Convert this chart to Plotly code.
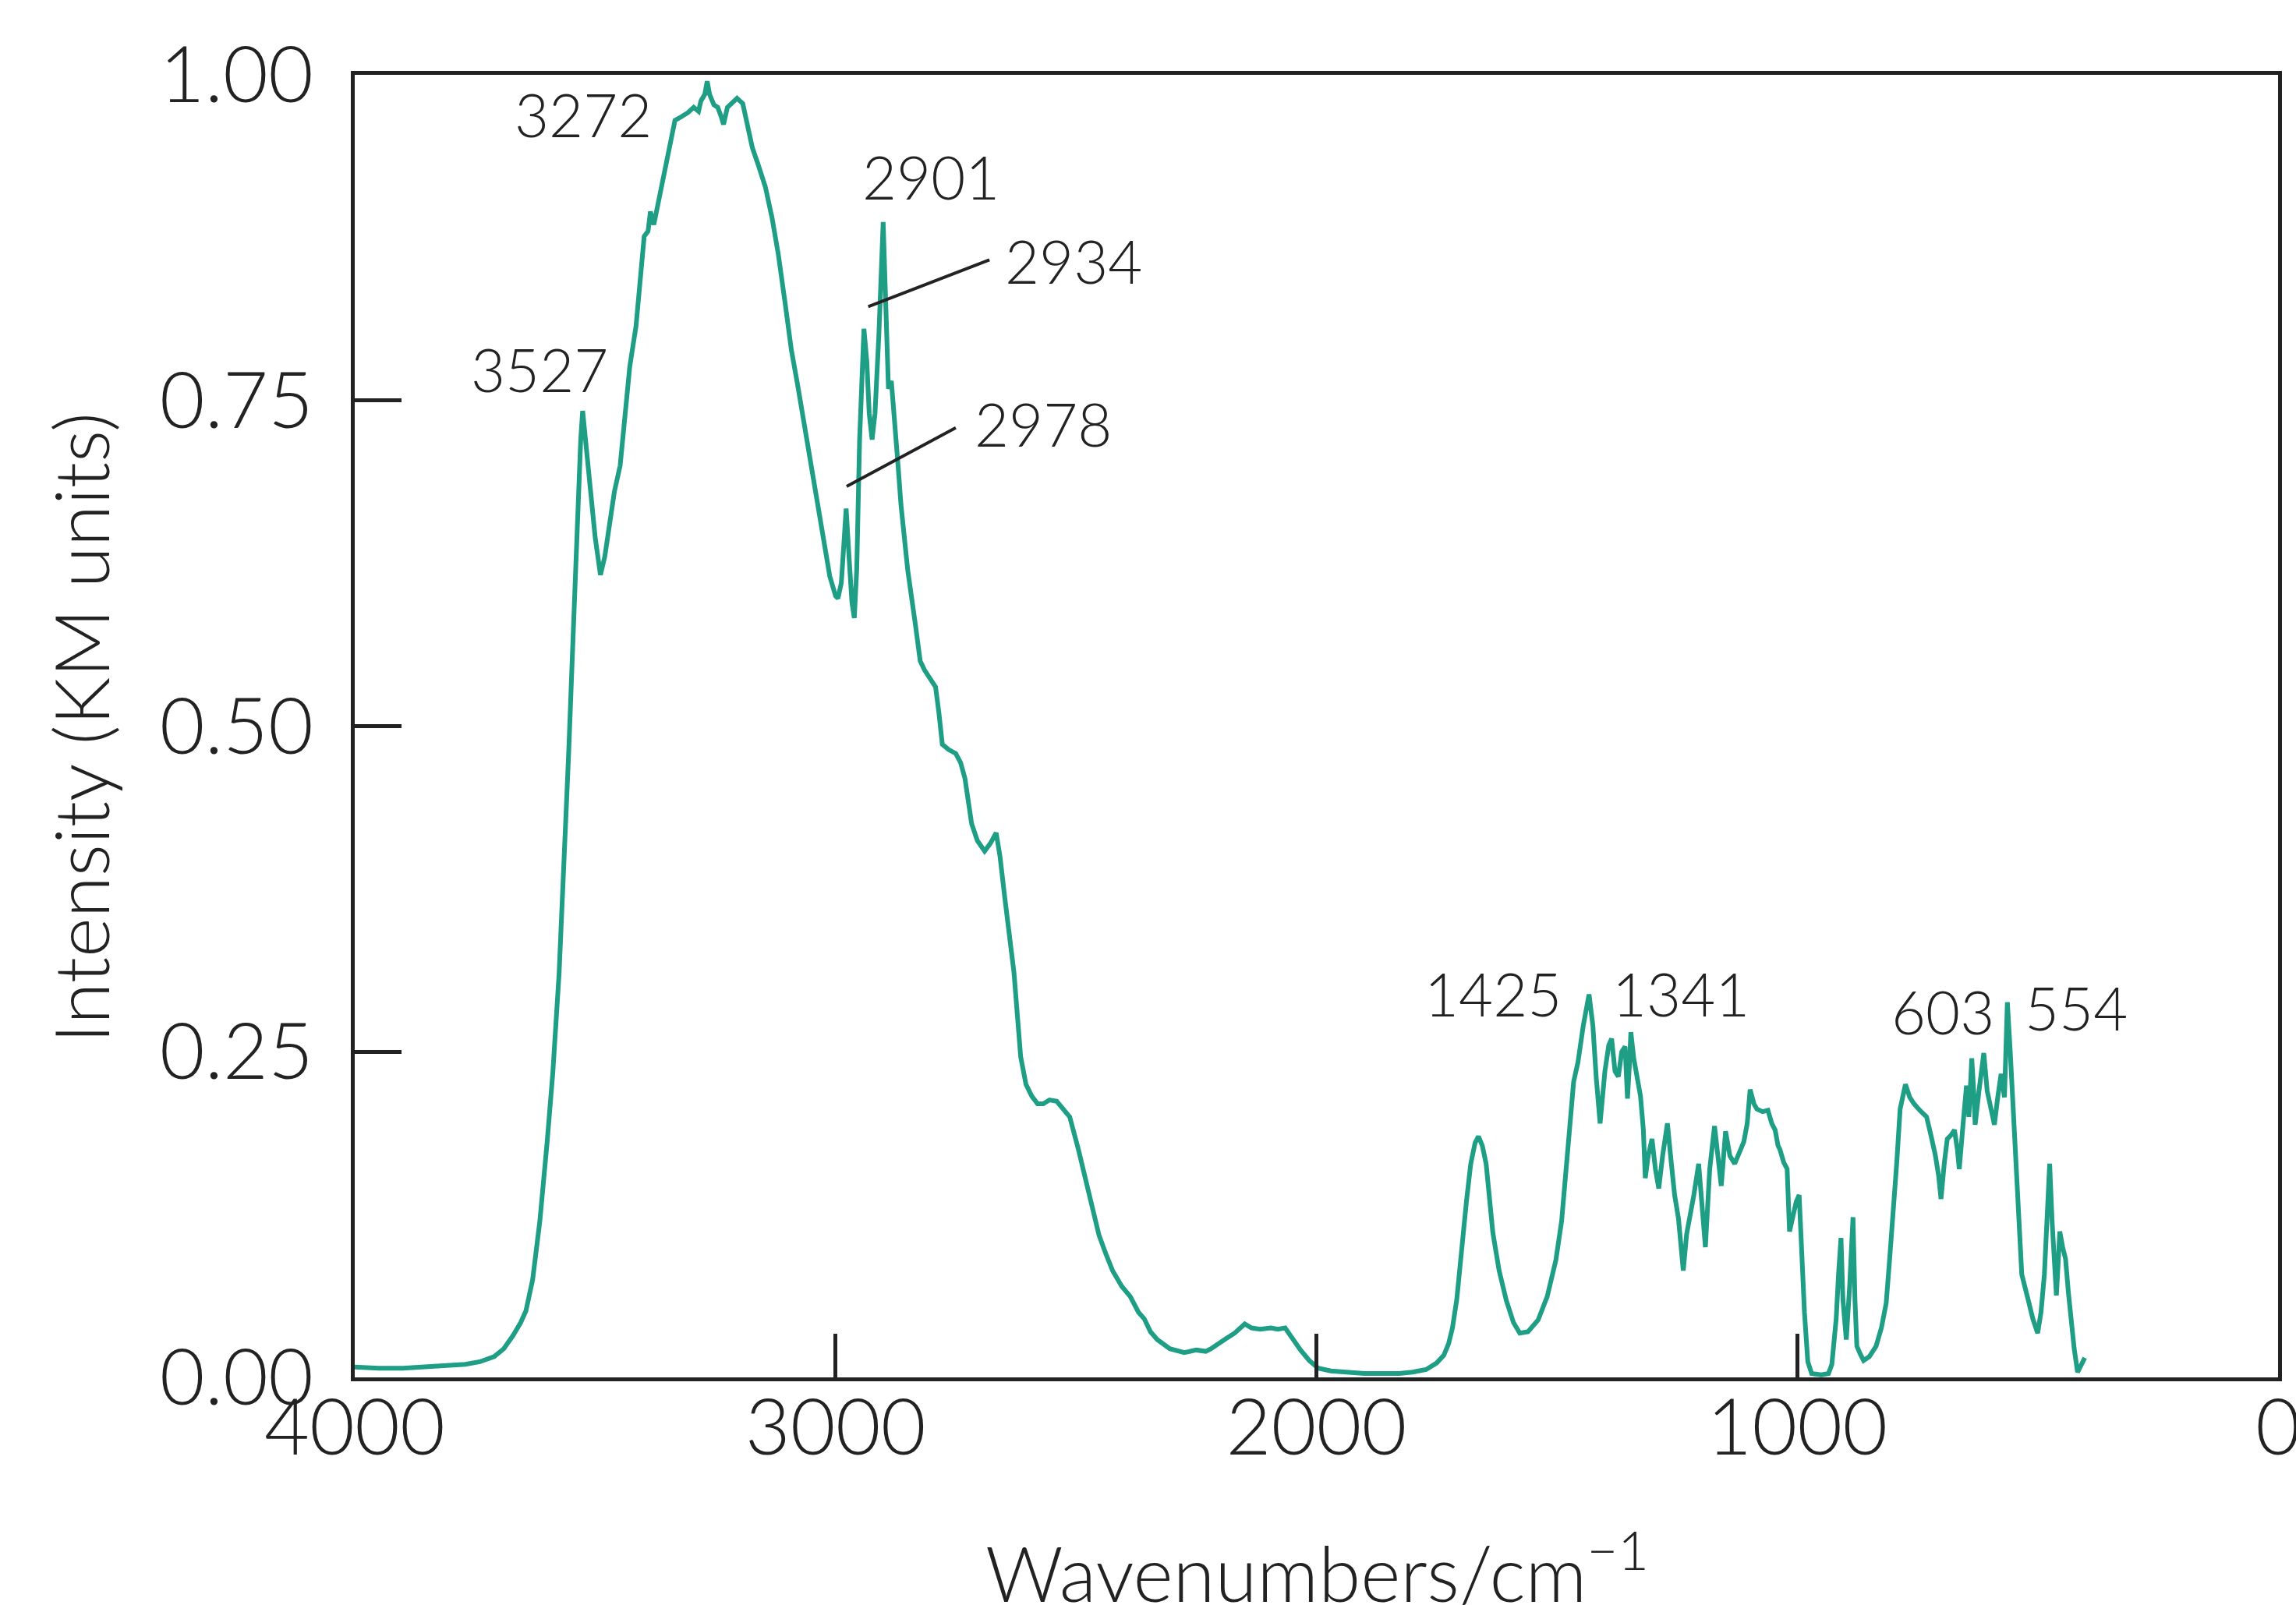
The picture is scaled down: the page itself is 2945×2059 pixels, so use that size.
import plotly.graph_objects as go

# ---- spectrum ----
wavenumber = [
    4000, 3950, 3900, 3850, 3800, 3770, 3740, 3710, 3690, 3671, 3655, 3644, 3630, 3615, 3600,
    3588, 3575, 3565, 3555, 3545, 3537, 3530, 3526, 3520, 3510, 3500, 3489, 3480, 3470, 3460,
    3448, 3438, 3428, 3415, 3405, 3398, 3390, 3385, 3378, 3370, 3361, 3350, 3340, 3334, 3320,
    3307, 3295, 3285, 3280, 3272, 3267, 3262, 3253, 3245, 3238, 3233, 3225, 3213, 3205, 3193,
    3183, 3173, 3160, 3146, 3132, 3119, 3105, 3092, 3078, 3065, 3050, 3038, 3025, 3012, 3000,
    2995, 2988, 2982, 2978, 2972, 2966, 2961, 2956, 2950, 2941, 2935, 2930, 2924, 2918, 2910,
    2905, 2901, 2897, 2893, 2890, 2884, 2878, 2870, 2864, 2850, 2834, 2824, 2815, 2805, 2792,
    2785, 2778, 2765, 2750, 2740, 2731, 2717, 2705, 2690, 2678, 2666, 2658, 2648, 2638, 2629,
    2615, 2604, 2592, 2580, 2568, 2555, 2540, 2525, 2513, 2495, 2480, 2465, 2452, 2438, 2424,
    2405, 2387, 2370, 2358, 2345, 2331, 2305, 2275, 2250, 2230, 2219, 2205, 2191, 2170, 2149,
    2135, 2117, 2095, 2080, 2065, 2050, 2033, 2015, 1996, 1970, 1940, 1900, 1860, 1828, 1800,
    1772, 1750, 1735, 1725, 1717, 1708, 1698, 1688, 1679, 1670, 1663, 1655, 1647, 1640, 1633,
    1620, 1605, 1590, 1577, 1560, 1539, 1520, 1502, 1490, 1479, 1472, 1465, 1456, 1445, 1433,
    1425, 1418, 1410, 1400, 1392, 1386, 1379, 1372, 1365, 1358, 1353, 1349, 1346, 1340, 1333,
    1326, 1320, 1316, 1310, 1302, 1295, 1288, 1280, 1270, 1262, 1255, 1247, 1237, 1230, 1223,
    1215, 1205, 1198, 1191, 1182, 1172, 1165, 1158, 1149, 1140, 1130, 1120, 1111, 1104, 1098,
    1090, 1084, 1072, 1061, 1053, 1046, 1040, 1036, 1028, 1021, 1016, 1008, 1002, 996, 992,
    985, 978, 970, 950, 935, 928, 922, 919, 914, 909, 905, 898, 891, 884, 880,
    876, 869, 862, 850, 836, 825, 815, 808, 800, 793, 786, 780, 775, 766, 757,
    745, 731, 722, 713, 706, 701, 694, 688, 680, 673, 667, 663, 655, 648, 643,
    637, 633, 630, 622, 612, 605, 597, 590, 583, 576, 569, 563, 557, 551, 545,
    539, 533, 520, 510, 500, 493, 486, 480, 475, 470, 466, 461, 457, 454, 448,
    442, 436, 430, 424, 417, 410, 402,
]
intensity = [
    0.008, 0.007, 0.007, 0.008, 0.009, 0.010, 0.012, 0.016, 0.022, 0.032, 0.042, 0.051, 0.075, 0.120, 0.180,
    0.234, 0.310, 0.386, 0.480, 0.577, 0.660, 0.720, 0.742, 0.720, 0.680, 0.645, 0.616, 0.630, 0.655, 0.680,
    0.700, 0.740, 0.776, 0.807, 0.850, 0.876, 0.880, 0.895, 0.885, 0.900, 0.913, 0.935, 0.955, 0.965, 0.968,
    0.971, 0.975, 0.972, 0.980, 0.985, 0.995, 0.985, 0.977, 0.975, 0.968, 0.962, 0.975, 0.980, 0.982, 0.978,
    0.960, 0.944, 0.930, 0.914, 0.890, 0.862, 0.825, 0.789, 0.760, 0.731, 0.700, 0.670, 0.640, 0.615, 0.600,
    0.598, 0.610, 0.640, 0.667, 0.630, 0.595, 0.583, 0.620, 0.720, 0.805, 0.780, 0.740, 0.720, 0.740, 0.800,
    0.850, 0.887, 0.840, 0.780, 0.759, 0.765, 0.740, 0.700, 0.670, 0.620, 0.578, 0.550, 0.543, 0.537, 0.530,
    0.510, 0.486, 0.482, 0.479, 0.472, 0.460, 0.425, 0.412, 0.404, 0.410, 0.418, 0.400, 0.368, 0.340, 0.311,
    0.246, 0.225, 0.216, 0.210, 0.210, 0.213, 0.212, 0.205, 0.200, 0.175, 0.151, 0.130, 0.109, 0.095, 0.082,
    0.070, 0.062, 0.050, 0.045, 0.035, 0.029, 0.022, 0.019, 0.021, 0.020, 0.022, 0.025, 0.029, 0.034, 0.041,
    0.038, 0.037, 0.038, 0.037, 0.038, 0.030, 0.021, 0.013, 0.007, 0.005, 0.004, 0.003, 0.003, 0.003, 0.004,
    0.006, 0.011, 0.017, 0.026, 0.038, 0.060, 0.100, 0.135, 0.164, 0.180, 0.185, 0.178, 0.164, 0.140, 0.111,
    0.082, 0.059, 0.042, 0.034, 0.035, 0.044, 0.062, 0.090, 0.120, 0.164, 0.190, 0.227, 0.242, 0.270, 0.294,
    0.270, 0.230, 0.195, 0.235, 0.255, 0.260, 0.235, 0.231, 0.250, 0.254, 0.214, 0.240, 0.265, 0.245, 0.230,
    0.216, 0.190, 0.153, 0.170, 0.183, 0.160, 0.145, 0.170, 0.195, 0.165, 0.140, 0.122, 0.082, 0.110, 0.122,
    0.140, 0.164, 0.130, 0.100, 0.160, 0.193, 0.170, 0.147, 0.189, 0.170, 0.164, 0.172, 0.181, 0.195, 0.221,
    0.210, 0.206, 0.204, 0.205, 0.195, 0.190, 0.178, 0.175, 0.165, 0.160, 0.112, 0.125, 0.135, 0.140, 0.100,
    0.050, 0.012, 0.003, 0.002, 0.003, 0.010, 0.030, 0.045, 0.080, 0.107, 0.060, 0.029, 0.070, 0.123, 0.060,
    0.024, 0.018, 0.013, 0.016, 0.024, 0.038, 0.057, 0.090, 0.125, 0.165, 0.206, 0.218, 0.225, 0.215, 0.210,
    0.205, 0.200, 0.186, 0.171, 0.155, 0.137, 0.165, 0.183, 0.186, 0.190, 0.175, 0.160, 0.195, 0.224, 0.200,
    0.245, 0.220, 0.194, 0.220, 0.249, 0.220, 0.205, 0.194, 0.215, 0.233, 0.215, 0.288, 0.250, 0.206, 0.160,
    0.120, 0.079, 0.060, 0.045, 0.034, 0.050, 0.079, 0.120, 0.164, 0.120, 0.090, 0.063, 0.090, 0.112, 0.100,
    0.091, 0.065, 0.040, 0.022, 0.004, 0.010, 0.015,
]

# ---- axes ----
x_tick_values = [4000, 3000, 2000, 1000, 0]
x_tick_labels = ["4000", "3000", "2000", "1000", "0"]
y_tick_values = [0.0, 0.25, 0.50, 0.75, 1.00]
y_tick_labels = ["0.00", "0.25", "0.50", "0.75", "1.00"]

# ---- peak labels (text and the point they sit at, in data units) ----
peak_text = ["3272", "3527", "2901", "2934", "2978", "1425", "1341", "603", "554"]
peak_text_x = [3525, 3616, 2801, 2505, 2569, 1632, 1242, 697, 420]
peak_text_y = [0.970, 0.774, 0.922, 0.857, 0.732, 0.295, 0.295, 0.281, 0.284]

# leader lines: (x0, y0, x1, y1) in data units
leader_x0 = [2932, 2977]
leader_y0 = [0.822, 0.684]
leader_x1 = [2680, 2750]
leader_y1 = [0.858, 0.729]

LINE_COLOR = "#1e9e85"
INK = "#222222"
FONT = "Lato"

fig = go.Figure()
fig.add_trace(go.Scatter(
    x=wavenumber, y=intensity, mode="lines",
    line=dict(color=LINE_COLOR, width=6),
    showlegend=False, hoverinfo="skip",
))

for t, x, y in zip(peak_text, peak_text_x, peak_text_y):
    fig.add_annotation(x=x, y=y, xref="x", yref="y", text=t, showarrow=False,
                       font=dict(family=FONT, size=76, color=INK, weight=300),
                       xanchor="center", yanchor="middle")

for x0, y0, x1, y1 in zip(leader_x0, leader_y0, leader_x1, leader_y1):
    fig.add_shape(type="line", xref="x", yref="y", x0=x0, y0=y0, x1=x1, y1=y1,
                  line=dict(color=INK, width=4))

# axis titles
fig.add_annotation(xref="paper", yref="paper", x=-0.143, y=0.499,
                   text="Intensity (KM units)", textangle=-90, showarrow=False,
                   font=dict(family=FONT, size=97, color=INK, weight=300),
                   xanchor="center", yanchor="middle")
fig.add_annotation(xref="paper", yref="paper", x=0.5006, y=-0.146,
                   text="Wavenumbers/cm<sup>\u22121</sup>", showarrow=False,
                   font=dict(family=FONT, size=98, color=INK, weight=300),
                   xanchor="center", yanchor="middle")

axis_common = dict(
    showline=True, linewidth=5, linecolor=INK, mirror=True,
    ticks="inside", tickwidth=5, tickcolor=INK,
    showgrid=False, zeroline=False,
    tickfont=dict(family=FONT, size=100, color=INK, weight=300),
)

fig.update_layout(
    width=2945, height=2059,
    margin=dict(l=455, r=23, t=96, b=292, autoexpand=False),
    paper_bgcolor="white", plot_bgcolor="white",
    xaxis=dict(range=[4000, 0], tickvals=x_tick_values, ticktext=x_tick_labels,
               ticklen=56, ticklabelstandoff=-26, ticklabeloverflow="allow",
               **axis_common),
    yaxis=dict(range=[0, 1.0], tickvals=y_tick_values, ticktext=y_tick_labels,
               ticklen=60, ticklabelstandoff=28, ticklabeloverflow="allow",
               **axis_common),
)

fig.write_html("out.html", config={"displayModeBar": False},
               post_script="document.body.style.margin='0';")
